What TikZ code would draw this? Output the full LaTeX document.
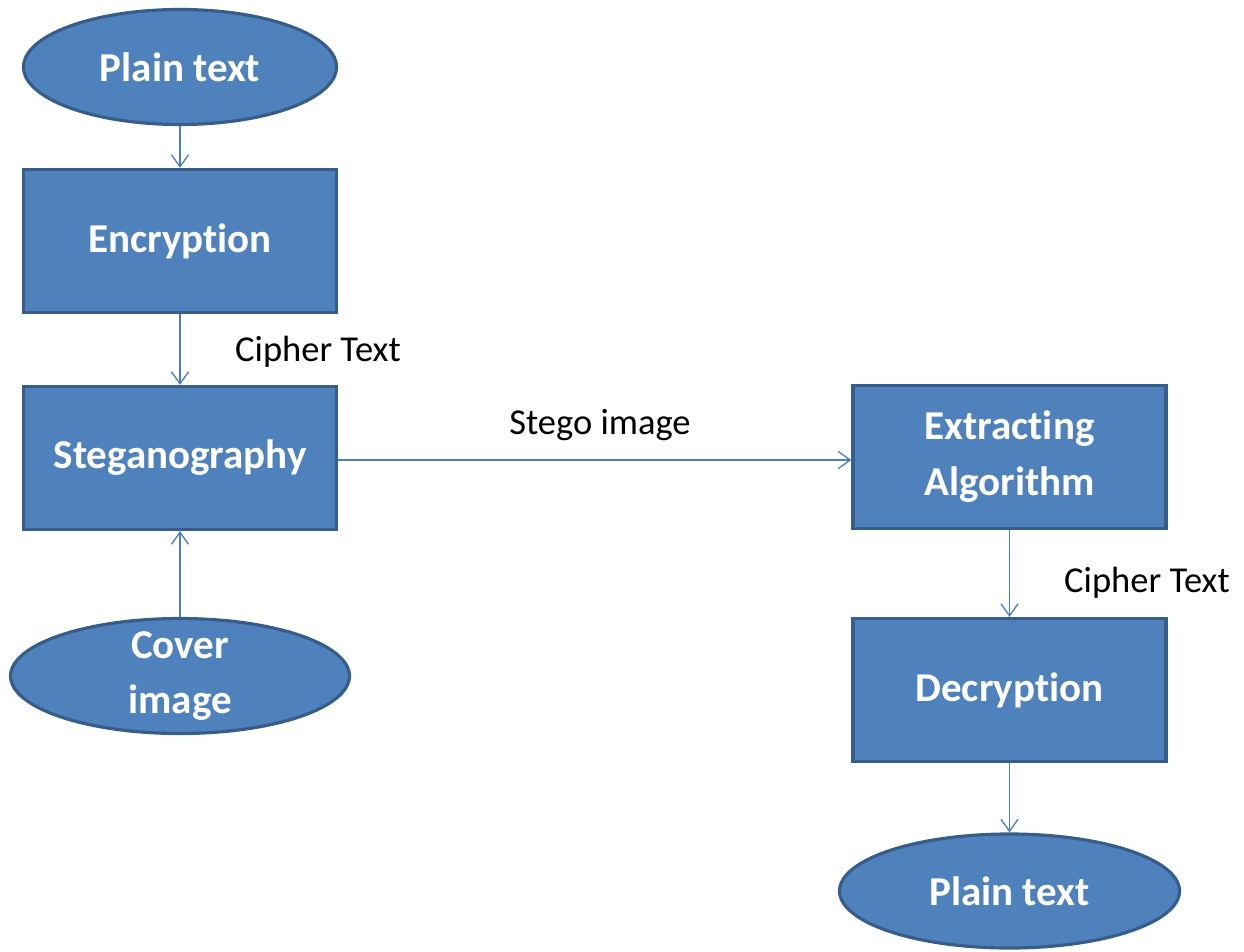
\documentclass[tikz,border=0pt]{standalone}
\usepackage{fontspec}
\setmainfont{Carlito}[Ligatures=NoCommon]
\usetikzlibrary{shapes.geometric,arrows.meta}
\definecolor{boxfill}{HTML}{4F81BD}
\definecolor{boxedge}{HTML}{385D8A}
\definecolor{linkcol}{HTML}{4A7EBB}
\tikzset{
  block/.style={rectangle, fill=boxfill, draw=boxedge, line width=3.2pt,
    minimum width=313pt, minimum height=143pt, inner sep=0pt,
    text=white, font=\fontsize{41}{56}\selectfont\bfseries, align=center},
  terminal/.style={ellipse, fill=boxfill, draw=boxedge, line width=3.2pt,
    inner sep=0pt, text=white, font=\fontsize{41}{55}\selectfont\bfseries, align=center},
  link/.style={draw=linkcol, line width=1.3pt,
    -{Straight Barb[length=12pt,width=17pt,line width=1.3pt]}},
  tag/.style={font=\fontsize{36.5}{40}\selectfont, text=black, inner sep=0pt}
}
\begin{document}
\begin{tikzpicture}[x=1pt,y=-1pt]
\useasboundingbox (0,0) rectangle (1244,951);
% left column: sender side
\node[terminal, minimum width=313pt, minimum height=115pt] (pt1) at (180,67) {Plain text};
\node[block] (enc) at (180,241) {Encryption};
\node[block] (steg) at (180,458) {Steganography};
\node[terminal, minimum width=339pt, minimum height=115pt, inner ysep=-8pt] (cover) at (180,676) {Cover\\image};
% right column: receiver side
\node[block] (ext) at (1009.5,457) {Extracting\\Algorithm};
\node[block] (dec) at (1009.5,690) {Decryption};
\node[terminal, minimum width=340pt, minimum height=114pt] (pt2) at (1009.5,891) {Plain text};
% connectors
\draw[link] (pt1) -- (enc);
\draw[link] (enc) -- (steg);
\draw[link] (cover) -- (steg);
\draw[link] (steg.east |- 0,460) -- (ext.west |- 0,460);
\draw[link] (ext) -- (dec);
\draw[link] (dec) -- (pt2);
% edge labels
\node[tag] (c1) at (318,352) {Cipher Text};
\node[tag] (si) at (600,425) {Stego image};
\node[tag] (c2) at (1147,583) {Cipher Text};
\end{tikzpicture}
\end{document}
